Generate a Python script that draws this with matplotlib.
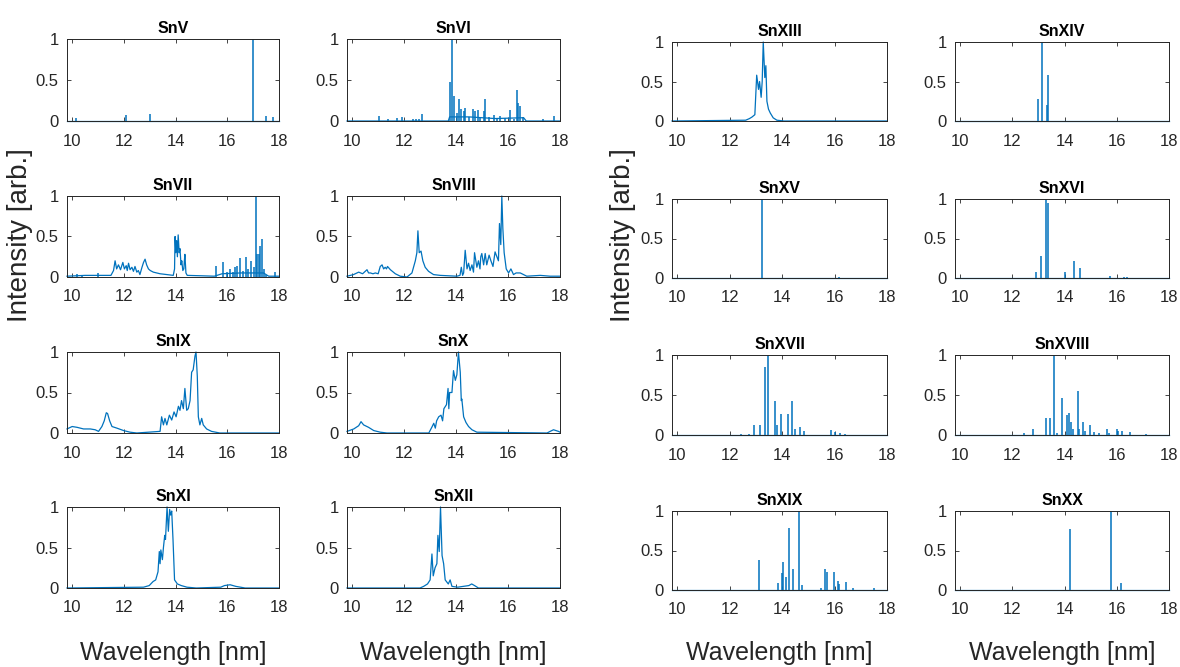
import matplotlib
matplotlib.use("Agg")
import matplotlib.pyplot as plt

plt.rcParams['font.family'] = ['Liberation Sans', 'DejaVu Sans']

# ---------------- data (wavelength in nm, normalised intensity) ----------------
flat_wl = [9.8, 18.0]
flat_int = [0.0, 0.0]
no_lines = []

# SnV
snV_lines_wl = [10.16, 12.09, 13.01, 17.0, 17.51, 17.77]
snV_lines_int = [0.04, 0.07, 0.09, 1.0, 0.06, 0.05]

# SnVI
snVI_wl = [9.8, 13.7, 13.75, 14.5, 15.5, 16.6, 16.7, 18.0]
snVI_int = [0.0, 0.0, 0.05, 0.05, 0.03, 0.04, 0.0, 0.0]
snVI_lines_wl = [11.04, 11.38, 11.72, 11.92, 12.36, 12.46, 12.56, 12.68, 13.77, 13.86,
                 13.93, 14.03, 14.13, 14.18, 14.29, 14.35, 14.48, 14.65, 14.74, 14.83,
                 14.93, 15.06, 15.13, 15.25, 15.44, 15.57, 15.7, 15.89, 16.06, 16.21,
                 16.34, 16.4, 16.47, 16.57, 17.36, 17.75]
snVI_lines_int = [0.06, 0.03, 0.04, 0.05, 0.03, 0.03, 0.03, 0.08, 0.47, 1.0,
                  0.3, 0.1, 0.27, 0.15, 0.12, 0.16, 0.05, 0.15, 0.12, 0.14,
                  0.05, 0.12, 0.27, 0.05, 0.07, 0.04, 0.06, 0.04, 0.13, 0.03,
                  0.38, 0.22, 0.18, 0.05, 0.02, 0.06]

# SnVII
snVII_wl = [9.8, 10.5, 11.5, 11.6, 11.66, 11.72, 11.79, 11.87, 11.96, 12.02,
            12.09, 12.13, 12.18, 12.24, 12.31, 12.37, 12.43, 12.5, 12.56, 12.62,
            12.7, 12.76, 12.82, 12.88, 12.95, 13.02, 13.14, 13.27, 13.4, 13.66,
            13.91, 13.96, 13.98, 14.01, 14.04, 14.07, 14.1, 14.14, 14.17, 14.21,
            14.24, 14.28, 14.32, 14.34, 14.36, 14.4, 14.45, 15.0, 15.5, 15.8,
            16.5, 17.4, 17.6, 18.0]
snVII_int = [0.01, 0.02, 0.02, 0.08, 0.2, 0.1, 0.15, 0.09, 0.18, 0.1,
             0.14, 0.08, 0.17, 0.09, 0.12, 0.07, 0.13, 0.06, 0.08, 0.03,
             0.12, 0.18, 0.22, 0.15, 0.1, 0.08, 0.06, 0.05, 0.04, 0.03,
             0.02, 0.1, 0.5, 0.3, 0.45, 0.25, 0.52, 0.3, 0.35, 0.15,
             0.2, 0.08, 0.1, 0.2, 0.28, 0.05, 0.02, 0.015, 0.01, 0.04,
             0.05, 0.05, 0.01, 0.01]
snVII_lines_wl = [10.19, 10.38, 10.98, 15.58, 15.84, 15.97, 16.1, 16.23, 16.29, 16.38,
                  16.51, 16.61, 16.72, 16.81, 16.93, 17.02, 17.1, 17.15, 17.23, 17.28,
                  17.34, 17.41, 17.51, 17.83]
snVII_lines_int = [0.04, 0.03, 0.05, 0.13, 0.19, 0.06, 0.1, 0.06, 0.12, 0.13,
                   0.24, 0.08, 0.25, 0.1, 0.2, 0.12, 1.0, 0.28, 0.28, 0.38,
                   0.47, 0.1, 0.03, 0.06]

# SnVIII
snVIII_wl = [9.8, 9.93, 10.05, 10.25, 10.4, 10.57, 10.63, 10.7, 10.8, 10.89,
             11.0, 11.08, 11.15, 11.21, 11.27, 11.32, 11.36, 11.47, 11.66, 11.85,
             12.11, 12.3, 12.43, 12.49, 12.53, 12.58, 12.65, 12.72, 12.81, 12.94,
             13.13, 13.39, 14.03, 14.15, 14.2, 14.25, 14.29, 14.35, 14.42, 14.48,
             14.54, 14.61, 14.67, 14.71, 14.8, 14.86, 14.92, 14.95, 14.99, 15.06,
             15.12, 15.18, 15.27, 15.34, 15.42, 15.5, 15.57, 15.63, 15.67, 15.72,
             15.76, 15.8, 15.85, 15.93, 16.02, 16.11, 16.21, 16.31, 16.47, 16.72,
             17.24, 17.62, 18.0]
snVIII_int = [0.01, 0.02, 0.03, 0.06, 0.04, 0.09, 0.05, 0.05, 0.04, 0.05,
              0.04, 0.13, 0.15, 0.1, 0.12, 0.1, 0.13, 0.09, 0.04, 0.01,
              0.0, 0.05, 0.2, 0.3, 0.57, 0.3, 0.32, 0.2, 0.12, 0.07,
              0.03, 0.02, 0.01, 0.02, 0.12, 0.02, 0.05, 0.33, 0.1, 0.17,
              0.08, 0.15, 0.06, 0.3, 0.12, 0.2, 0.1, 0.25, 0.29, 0.15,
              0.29, 0.15, 0.27, 0.2, 0.13, 0.31, 0.25, 0.2, 0.66, 0.4,
              1.0, 0.6, 0.3, 0.1, 0.05, 0.1, 0.03, 0.05, 0.05, 0.01,
              0.02, 0.01, 0.01]

# SnIX
snIX_wl = [9.8, 10.0, 10.19, 10.44, 10.7, 10.89, 11.02, 11.15, 11.24, 11.32,
           11.37, 11.45, 11.54, 11.73, 11.99, 12.24, 12.5, 13.4, 13.46, 13.53,
           13.59, 13.66, 13.76, 13.85, 13.94, 14.02, 14.11, 14.17, 14.23, 14.3,
           14.36, 14.43, 14.49, 14.56, 14.62, 14.68, 14.75, 14.79, 14.84, 14.88,
           14.94, 15.01, 15.07, 15.2, 15.39, 15.71, 18.0]
snIX_int = [0.05, 0.08, 0.07, 0.05, 0.05, 0.04, 0.02, 0.08, 0.15, 0.25,
            0.24, 0.15, 0.08, 0.06, 0.03, 0.01, 0.0, 0.02, 0.2, 0.1,
            0.18, 0.1, 0.22, 0.16, 0.26, 0.2, 0.33, 0.28, 0.4, 0.3,
            0.55, 0.28, 0.3, 0.4, 0.75, 0.78, 0.95, 1.0, 0.7, 0.2,
            0.1, 0.18, 0.1, 0.05, 0.02, 0.0, 0.0]

# SnX
snX_wl = [9.8, 10.06, 10.25, 10.34, 10.44, 10.63, 10.83, 11.08, 11.34, 12.95,
          13.08, 13.14, 13.2, 13.25, 13.33, 13.42, 13.48, 13.53, 13.63, 13.69,
          13.72, 13.75, 13.84, 13.9, 13.97, 14.03, 14.09, 14.16, 14.2, 14.22,
          14.29, 14.38, 14.48, 14.61, 14.8, 17.5, 17.62, 17.75, 17.94, 18.0]
snX_int = [0.02, 0.05, 0.09, 0.14, 0.1, 0.07, 0.03, 0.01, 0.0, 0.0,
           0.08, 0.12, 0.06, 0.15, 0.2, 0.22, 0.15, 0.3, 0.35, 0.55,
           0.3, 0.5, 0.5, 0.77, 0.65, 0.72, 1.0, 0.75, 0.4, 0.42,
           0.2, 0.13, 0.08, 0.04, 0.01, 0.0, 0.02, 0.04, 0.02, 0.01]

# SnXI
snXI_wl = [9.8, 12.76, 12.98, 13.13, 13.23, 13.32, 13.37, 13.4, 13.43, 13.49,
           13.53, 13.58, 13.61, 13.67, 13.72, 13.77, 13.81, 13.85, 13.9, 13.96,
           14.07, 14.22, 14.44, 14.8, 15.75, 15.89, 16.11, 16.33, 16.69, 18.0]
snXI_int = [0.0, 0.01, 0.03, 0.08, 0.1, 0.2, 0.45, 0.3, 0.47, 0.35,
            0.5, 0.65, 0.6, 1.0, 0.7, 0.97, 0.9, 0.95, 0.6, 0.1,
            0.05, 0.03, 0.01, 0.0, 0.01, 0.03, 0.04, 0.02, 0.0, 0.0]

# SnXII
snXII_wl = [9.8, 12.61, 12.75, 12.9, 13.0, 13.07, 13.12, 13.19, 13.26, 13.3,
            13.35, 13.4, 13.46, 13.52, 13.58, 13.7, 13.77, 13.84, 14.06, 14.49,
            14.6, 14.71, 14.86, 18.0]
snXII_int = [0.0, 0.0, 0.02, 0.05, 0.1, 0.42, 0.15, 0.25, 0.3, 0.65,
             0.45, 1.0, 0.4, 0.3, 0.1, 0.05, 0.1, 0.02, 0.01, 0.03,
             0.05, 0.03, 0.0, 0.0]

# SnXIII
snXIII_wl = [9.8, 12.61, 12.75, 12.85, 12.96, 13.03, 13.1, 13.14, 13.2, 13.24,
             13.28, 13.34, 13.38, 13.42, 13.48, 13.55, 13.66, 13.8, 14.08, 18.0]
snXIII_int = [0.0, 0.01, 0.03, 0.05, 0.08, 0.58, 0.4, 0.5, 0.3, 0.5,
              1.0, 0.55, 0.7, 0.25, 0.15, 0.1, 0.04, 0.01, 0.0, 0.0]

# SnXIV
snXIV_lines_wl = [12.99, 13.15, 13.31, 13.38]
snXIV_lines_int = [0.28, 1.0, 0.2, 0.58]

# SnXV
snXV_lines_wl = [13.24, 16.17]
snXV_lines_int = [1.0, 0.015]

# SnXVI
snXVI_lines_wl = [12.92, 13.1, 13.3, 13.37, 14.01, 14.35, 14.58, 15.75, 16.27, 16.4]
snXVI_lines_int = [0.07, 0.28, 1.0, 0.95, 0.07, 0.22, 0.13, 0.02, 0.015, 0.015]

# SnXVII
snXVII_lines_wl = [12.42, 12.74, 12.91, 13.17, 13.36, 13.46, 13.71, 13.81, 13.94, 14.24,
                   14.37, 14.51, 14.67, 14.83, 15.85, 16.01, 16.21, 16.4]
snXVII_lines_int = [0.01, 0.01, 0.12, 0.13, 0.85, 1.0, 0.43, 0.12, 0.26, 0.26,
                    0.42, 0.07, 0.1, 0.05, 0.06, 0.04, 0.02, 0.01]

# SnXVIII
snXVIII_lines_wl = [12.45, 12.77, 13.28, 13.44, 13.58, 13.71, 13.9, 14.08, 14.18, 14.24,
                    14.31, 14.5, 14.56, 14.69, 14.79, 14.99, 15.14, 15.33, 15.63, 15.72,
                    16.0, 16.06, 16.21, 16.49, 17.13]
snXVIII_lines_int = [0.02, 0.07, 0.21, 0.21, 1.0, 0.03, 0.46, 0.25, 0.27, 0.16,
                     0.08, 0.55, 0.08, 0.16, 0.05, 0.13, 0.04, 0.02, 0.07, 0.03,
                     0.07, 0.05, 0.05, 0.04, 0.01]

# SnXIX
snXIX_lines_wl = [13.1, 13.83, 14.0, 14.04, 14.15, 14.28, 14.41, 14.63, 14.76, 15.5,
                  15.62, 15.73, 15.97, 16.12, 16.18, 16.44, 16.72, 17.51]
snXIX_lines_int = [0.38, 0.09, 0.21, 0.35, 0.16, 0.78, 0.27, 1.0, 0.06, 0.03,
                   0.26, 0.23, 0.23, 0.12, 0.08, 0.1, 0.02, 0.02]

# SnXX
snXX_lines_wl = [14.2, 15.76, 16.17]
snXX_lines_int = [0.77, 1.0, 0.09]

x_ticks = [10, 12, 14, 16, 18]
y_ticks = [0, 0.5, 1]
y_tick_labels = ['0', '0.5', '1']

# (title, group, row, col, continuum wl, continuum int, line wl, line int)
panels = [
    ("SnV", 0, 0, 0, flat_wl, flat_int, snV_lines_wl, snV_lines_int),
    ("SnVI", 0, 0, 1, snVI_wl, snVI_int, snVI_lines_wl, snVI_lines_int),
    ("SnVII", 0, 1, 0, snVII_wl, snVII_int, snVII_lines_wl, snVII_lines_int),
    ("SnVIII", 0, 1, 1, snVIII_wl, snVIII_int, no_lines, no_lines),
    ("SnIX", 0, 2, 0, snIX_wl, snIX_int, no_lines, no_lines),
    ("SnX", 0, 2, 1, snX_wl, snX_int, no_lines, no_lines),
    ("SnXI", 0, 3, 0, snXI_wl, snXI_int, no_lines, no_lines),
    ("SnXII", 0, 3, 1, snXII_wl, snXII_int, no_lines, no_lines),
    ("SnXIII", 1, 0, 0, snXIII_wl, snXIII_int, no_lines, no_lines),
    ("SnXIV", 1, 0, 1, flat_wl, flat_int, snXIV_lines_wl, snXIV_lines_int),
    ("SnXV", 1, 1, 0, flat_wl, flat_int, snXV_lines_wl, snXV_lines_int),
    ("SnXVI", 1, 1, 1, flat_wl, flat_int, snXVI_lines_wl, snXVI_lines_int),
    ("SnXVII", 1, 2, 0, flat_wl, flat_int, snXVII_lines_wl, snXVII_lines_int),
    ("SnXVIII", 1, 2, 1, flat_wl, flat_int, snXVIII_lines_wl, snXVIII_lines_int),
    ("SnXIX", 1, 3, 0, flat_wl, flat_int, snXIX_lines_wl, snXIX_lines_int),
    ("SnXX", 1, 3, 1, flat_wl, flat_int, snXX_lines_wl, snXX_lines_int),
]

# ---------------- layout (pixels) ----------------
W, H = 1180, 667
group_cols = [[(67, 279), (347, 560)], [(672, 887), (955, 1169)]]
group_rows = [[(39, 121), (196, 277), (352, 433), (507, 588)],
              [(42, 121), (199, 278), (355, 435), (511, 590)]]
line_color = '#0072BD'
axis_color = '#262626'

fig = plt.figure(figsize=(W / 100, H / 100), dpi=100)

for title, g, r, c, cwl, cint, lwl, lint in panels:
    x0, x1 = group_cols[g][c]
    y0, y1 = group_rows[g][r]
    ax = fig.add_axes([x0 / W, 1 - y1 / H, (x1 - x0) / W, (y1 - y0) / H])
    ax.plot(cwl, cint, color=line_color, lw=0.9, clip_on=False)
    if len(lwl):
        ax.vlines(lwl, 0, lint, color=line_color, lw=1.1)
    ax.set_xlim(9.8, 18)
    ax.set_ylim(0, 1)
    ax.set_xticks(x_ticks)
    ax.set_yticks(y_ticks)
    ax.set_yticklabels(y_tick_labels)
    ax.tick_params(direction='in', length=3, width=0.6, top=True, right=True,
                   labelsize=12, colors=axis_color)
    ax.tick_params(axis='x', pad=9)
    ax.tick_params(axis='y', pad=6)
    for s in ax.spines.values():
        s.set_color(axis_color)
        s.set_linewidth(0.7)
    ax.set_title(title, fontsize=11.5, fontweight='bold', pad=4.5, color='black')

# column x-labels
for g in range(2):
    for (x0, x1) in group_cols[g]:
        fig.text((x0 + x1) / 2 / W, 1 - 660 / H, 'Wavelength [nm]', ha='center',
                 va='baseline', fontsize=18, color=axis_color)

# group y-labels
for xc in (20, 623):
    fig.text(xc / W, 1 - 235 / H, 'Intensity [arb.]', rotation=90, ha='center',
             va='center', fontsize=20, color=axis_color)

fig.savefig('out.png', dpi=100)
